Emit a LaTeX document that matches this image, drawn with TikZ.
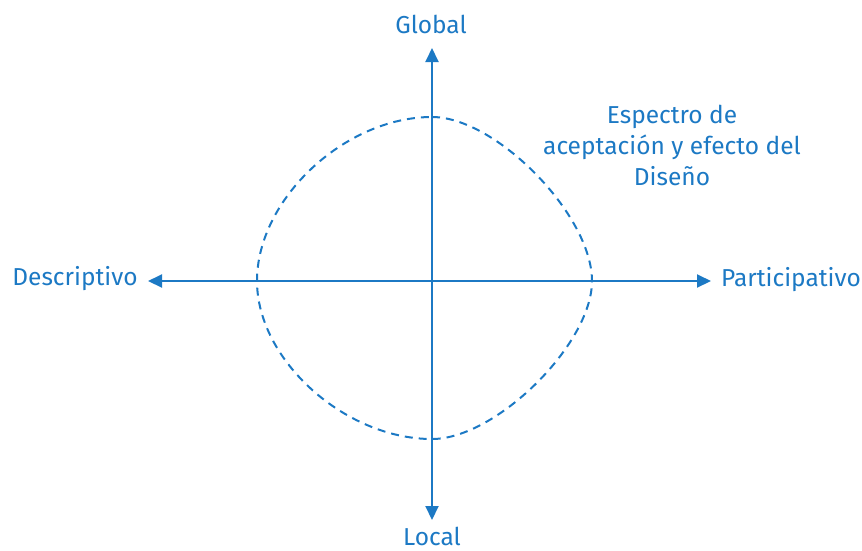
\documentclass[tikz,border=0pt]{standalone}
\usepackage{fontspec}
\setmainfont{Fira Sans}
\usetikzlibrary{arrows.meta}
\definecolor{axblue}{RGB}{28,121,196}
\tikzset{
  axis/.style={line width=2pt, draw=axblue, {Triangle[length=14pt,width=13pt]}-{Triangle[length=14pt,width=13pt]}},
  spectrum/.style={line width=2pt, draw=axblue, dash pattern=on 8pt off 6pt},
  lbl/.style={text=axblue, inner sep=0pt, font=\fontsize{24.5}{31}\selectfont, anchor=base},
}
\begin{document}
\begin{tikzpicture}[x=1pt,y=-1pt]
\path[use as bounding box] (0,0) rectangle (862,550);
% axis endpoints
\coordinate (AL) at (148,281);
\coordinate (AR) at (711,281);
\coordinate (AT) at (432,48);
\coordinate (AB) at (432,520);
% curve vertices
\coordinate (CT) at (432,117);
\coordinate (CB) at (432,439);
\coordinate (CL) at (257,281);
\coordinate (CR) at (592,281);
\draw[axis] (AL) -- (AR);
\draw[axis] (AB) -- (AT);
\draw[spectrum] (CT) .. controls +(64,0) and +(0,-66) .. (CR)
  .. controls +(0,63) and +(64,0) .. (CB)
  .. controls +(-87,0) and +(0,79) .. (CL)
  .. controls +(0,-82) and +(-87,0) .. (CT) -- cycle;
\node[lbl] (global) at (431,33) {Global};
\node[lbl] (local) at (432,545) {Local};
\node[lbl] (desc) at (75,285) {Descriptivo};
\node[lbl] (part) at (791,286) {Participativo};
\node[lbl, align=center] (spec) at (672,185) {Espectro de\\aceptación y efecto del\\Diseño};
\end{tikzpicture}
\end{document}
